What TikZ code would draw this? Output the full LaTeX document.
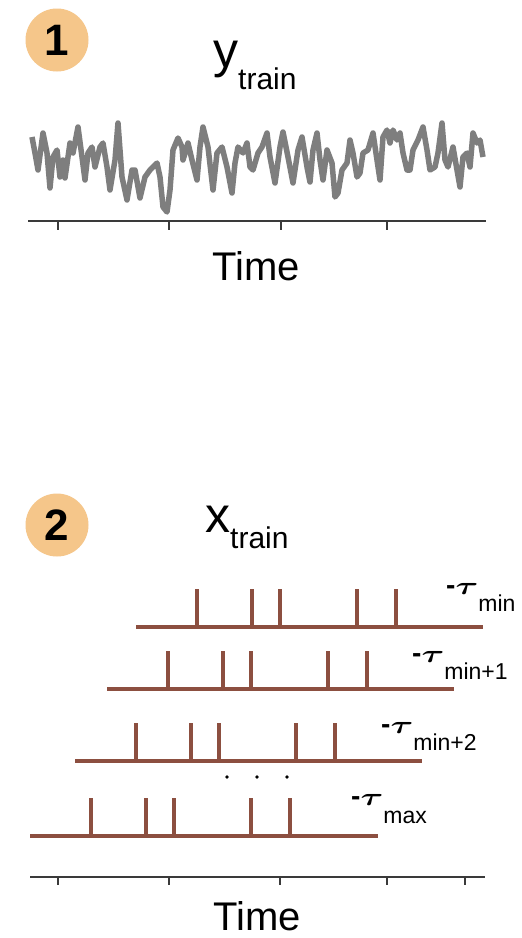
\documentclass[tikz,border=0pt]{standalone}
\usepackage{fontspec}
\setmainfont{Liberation Sans}
\usepackage{graphicx}
\usetikzlibrary{calc}
\definecolor{badge}{HTML}{F5C68A}
\definecolor{spk}{HTML}{8C4F40}
\definecolor{trace}{HTML}{7E7E7E}
\definecolor{axis}{HTML}{3A3A3A}
\tikzset{
  badgecirc/.style={circle, fill=badge, minimum size=63pt, inner sep=0pt},
  badgenum/.style={font=\fontsize{44}{44}\selectfont\bfseries, text=black},
  axisline/.style={draw=axis, line width=2pt},
  tickmark/.style={draw=axis, line width=1.6pt},
  baseline/.style={draw=spk, line width=3.5pt},
  spike/.style={draw=spk, line width=4pt},
  lbl/.style={anchor=base west, inner sep=0pt},
  timelbl/.style={anchor=base, inner sep=0pt, font=\fontsize{40}{40}\selectfont}
}
\newcommand{\taulab}[2]{{\fontsize{28}{28}\selectfont\bfseries -}\scalebox{1.4}[1]{\fontsize{34}{34}\selectfont\boldmath$\tau$}\raisebox{-#2pt}{\fontsize{23}{23}\selectfont #1}}
\begin{document}
\begin{tikzpicture}[x=1pt,y=-1pt]
\useasboundingbox[fill=white] (0,0) rectangle (522,938);
% panel 1
\node[badgecirc] (b1) at (57,40) {};
\node[badgenum] (n1) at (b1.center) {1};
\node[lbl] (ytr) at (213,67) {{\fontsize{50}{50}\selectfont y}\raisebox{-22pt}{\fontsize{30}{30}\selectfont train}};
\draw[trace, line width=5.5pt, line join=round] plot coordinates {
(32,137) (35,153) (38,170) (43,133) (47,153) (50,188) (53,157) (57,150) (60,177)
(63,160) (65,178) (70,143) (73,153) (78,127) (82,157) (85,180) (88,153) (92,147)
(95,167) (100,147) (103,143) (107,167) (110,190) (115,160) (118,123) (122,177)
(127,200) (132,170) (135,170) (140,198) (145,177) (150,170) (157,163) (160,177)
(163,207) (167,212) (170,190) (173,150) (178,138) (182,147) (183,160) (188,143)
(192,160) (197,180) (200,147) (203,127) (208,147) (213,190) (217,153) (222,147)
(227,167) (232,193) (235,163) (238,147) (243,153) (247,143) (250,167) (253,170)
(258,153) (262,147) (267,133) (270,157) (275,183) (280,147) (283,132) (288,157)
(293,183) (298,150) (302,137) (307,167) (310,182) (313,150) (317,133) (320,160)
(323,180) (327,150) (332,163) (335,197) (338,193) (342,170) (347,163) (350,140)
(353,153) (357,177) (360,173) (363,153) (368,150) (373,133) (377,160) (380,180)
(383,137) (387,130) (390,143) (393,130) (397,140) (400,133) (403,153) (407,170)
(410,170) (413,150) (418,140) (423,127) (427,150) (430,170) (435,167) (438,153)
(442,123) (445,160) (448,167) (453,147) (457,170) (460,187) (463,157) (467,153)
(470,167) (473,133) (477,143) (480,140) (483,157)};
\coordinate (a1l) at (28,221);
\coordinate (a1r) at (486,221);
\draw[axisline] (a1l) -- (a1r);
\foreach \t in {58,169,281,387} \draw[tickmark] (\t,221) -- (\t,230);
\node[timelbl] (time1) at (256,280) {Time};
% panel 2
\node[badgecirc] (b2) at (57,525) {};
\node[badgenum] (n2) at (b2.center) {2};
\node[lbl] (xtr) at (205,532) {{\fontsize{50}{50}\selectfont x}\raisebox{-16pt}{\fontsize{30}{30}\selectfont train}};
% spike rows: start x, end x, baseline y
\foreach \s/\e/\y/\n in {136/483/627/r1, 107/454/689/r2, 75/422/761/r3, 30/378/836/r4}{
  \coordinate (\n l) at (\s,\y);
  \coordinate (\n r) at (\e,\y);
  \draw[baseline] (\n l) -- (\n r);
  \foreach \d in {61,116,144,221,260}{
    \draw[spike] ($(\n l)+(\d,0)$) -- ++(0,-38);
  }
}
\node[lbl] (t1) at (446,594) {\taulab{min}{17}};
\node[lbl] (t2) at (412,662) {\taulab{min+1}{17}};
\node[lbl] (t3) at (381,733) {\taulab{min+2}{17}};
\node[lbl] (t4) at (351,805) {\taulab{max}{18}};
\foreach \dx in {227,257,287} \fill[black] (\dx,777) circle (1.8pt);
\coordinate (a2l) at (30,877);
\coordinate (a2r) at (485,877);
\draw[axisline] (a2l) -- (a2r);
\foreach \t in {58,169,280,387,465} \draw[tickmark] (\t,877) -- (\t,885);
\node[timelbl] (time2) at (257,930) {Time};
\end{tikzpicture}
\end{document}
